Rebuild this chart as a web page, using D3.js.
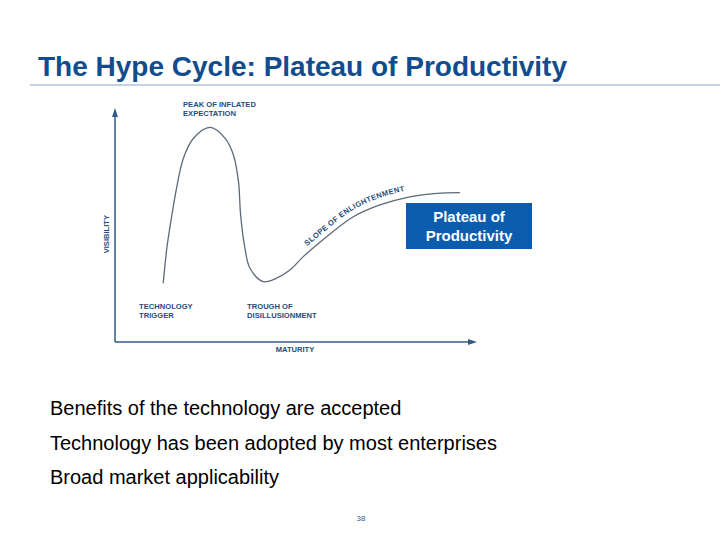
<!DOCTYPE html>
<html>
<head>
<meta charset="utf-8">
<title>The Hype Cycle: Plateau of Productivity</title>
<script src="https://d3js.org/d3.v7.min.js"></script>
<style>
  body { margin: 0; background: #fff; }
  svg { display: block; font-family: "Liberation Sans", Arial, sans-serif; }
  .phase { fill: #1f4e7a; font-weight: bold; font-size: 7.6px; }
  .bullet { fill: #000; font-size: 20px; }
</style>
</head>
<body>
<svg width="720" height="540"></svg>
<script>
var width = 720, height = 540;

// hype curve (maturity 0-100, visibility 0-100)
var maturity   = [13.4, 14.4, 15.8, 17.1, 19.0, 21.8, 26.4, 30.6, 32.9, 34.3, 34.9, 36.1, 37.5, 41.2, 44.9, 48.6, 52.3, 58.8, 66.2, 73.6, 81.9, 89.4, 95.8];
var visibility = [25.3, 40.4, 54.7, 66.3, 79.2, 87.8, 92.5, 87.8, 80.6, 69.1, 54.7, 40.4, 31.8, 26.0, 27.5, 31.0, 36.8, 45.4, 54.0, 59.1, 62.6, 64.1, 64.4];

var phaseNames = [["PEAK OF INFLATED", "EXPECTATION"], ["TECHNOLOGY", "TRIGGER"], ["TROUGH OF", "DISILLUSIONMENT"]];
var phaseAt = [[18.9, 101.3], [6.7, 14.2], [36.7, 14.2]];
var slopeName = "SLOPE OF ENLIGHTENMENT";
var boxLines = ["Plateau of", "Productivity"];
var bullets = ["Benefits of the technology are accepted",
  "Technology has been adopted by most enterprises",
  "Broad market applicability"];

var points = maturity.map(function(m, i) { return [m, visibility[i]]; });

var svg = d3.select('svg');

var x = d3.scaleLinear().domain([0, 100]).range([115, 475]);
var y = d3.scaleLinear().domain([0, 100]).range([342, 110]);

// title + rule
svg.append('text')
  .attr('x', 38).attr('y', 76)
  .attr('fill', '#114d8e')
  .attr('font-weight', 'bold')
  .attr('font-size', 28)
  .text('The Hype Cycle: Plateau of Productivity');

svg.append('line')
  .attr('x1', 30).attr('x2', 720)
  .attr('y1', 85).attr('y2', 85)
  .attr('stroke', '#8ba6c6').attr('stroke-width', 1.2);

// axes with arrow heads
var axisColor = '#2f5b86';
svg.append('line')
  .attr('x1', x(0)).attr('y1', y(0)).attr('x2', x(0)).attr('y2', y(100) + 4)
  .attr('stroke', axisColor).attr('stroke-width', 1.5);
svg.append('line')
  .attr('x1', x(0)).attr('y1', y(0)).attr('x2', x(100) - 4).attr('y2', y(0))
  .attr('stroke', axisColor).attr('stroke-width', 1.5);
svg.append('path')
  .attr('d', 'M' + x(0) + ',' + (y(100) - 2) + 'l3,9l-6,0z')
  .attr('fill', axisColor);
svg.append('path')
  .attr('d', 'M' + (x(100) + 2) + ',' + y(0) + 'l-9,-3l0,6z')
  .attr('fill', axisColor);

svg.append('text')
  .attr('class', 'phase')
  .attr('x', (x(0) + x(100)) / 2).attr('y', 352)
  .attr('text-anchor', 'middle')
  .text('MATURITY');

svg.append('text')
  .attr('class', 'phase')
  .attr('transform', 'translate(109,' + y(46.5) + ') rotate(-90)')
  .attr('text-anchor', 'middle')
  .text('VISIBILITY');

// the curve
var line = d3.line()
  .x(function(d) { return x(d[0]); })
  .y(function(d) { return y(d[1]); })
  .curve(d3.curveCatmullRom.alpha(0.5));

svg.append('path')
  .attr('d', line(points))
  .attr('fill', 'none')
  .attr('stroke', '#5d6977')
  .attr('stroke-width', 1.3);

// slope label follows the curve
var slopeLine = d3.line()
  .x(function(d) { return x(d[0]); })
  .y(function(d) { return y(d[1]) - 7; })
  .curve(d3.curveCatmullRom.alpha(0.5));

svg.append('path')
  .attr('id', 'slopePath')
  .attr('d', slopeLine(points.slice(14)))
  .attr('fill', 'none');

svg.append('text')
  .attr('class', 'phase')
  .attr('letter-spacing', 0.35)
  .append('textPath')
  .attr('href', '#slopePath')
  .attr('startOffset', 40)
  .text(slopeName);

// phase labels
phaseNames.forEach(function(lines, i) {
  var t = svg.append('text')
    .attr('class', 'phase')
    .attr('x', x(phaseAt[i][0]))
    .attr('y', y(phaseAt[i][1]));
  lines.forEach(function(s, j) {
    t.append('tspan')
      .attr('x', x(phaseAt[i][0]))
      .attr('dy', j === 0 ? 0 : 9.3)
      .text(s);
  });
});

// plateau box
svg.append('rect')
  .attr('x', 406).attr('y', 203)
  .attr('width', 126).attr('height', 46)
  .attr('fill', '#0b5cad');

svg.selectAll('.boxText')
  .data(boxLines)
  .enter()
  .append('text')
  .attr('class', 'boxText')
  .attr('x', 469)
  .attr('y', function(d, i) { return 222 + i * 19; })
  .attr('text-anchor', 'middle')
  .attr('fill', '#fff')
  .attr('font-weight', 'bold')
  .attr('font-size', 15)
  .text(function(d) { return d; });

// bullet text
svg.selectAll('.bullet')
  .data(bullets)
  .enter()
  .append('text')
  .attr('class', 'bullet')
  .attr('x', 50)
  .attr('y', function(d, i) { return 415 + i * 34.5; })
  .text(function(d) { return d; });

svg.append('text')
  .attr('x', 361).attr('y', 521)
  .attr('text-anchor', 'middle')
  .attr('fill', '#2a5d94')
  .attr('font-size', 8)
  .text('38');
</script>
</body>
</html>
